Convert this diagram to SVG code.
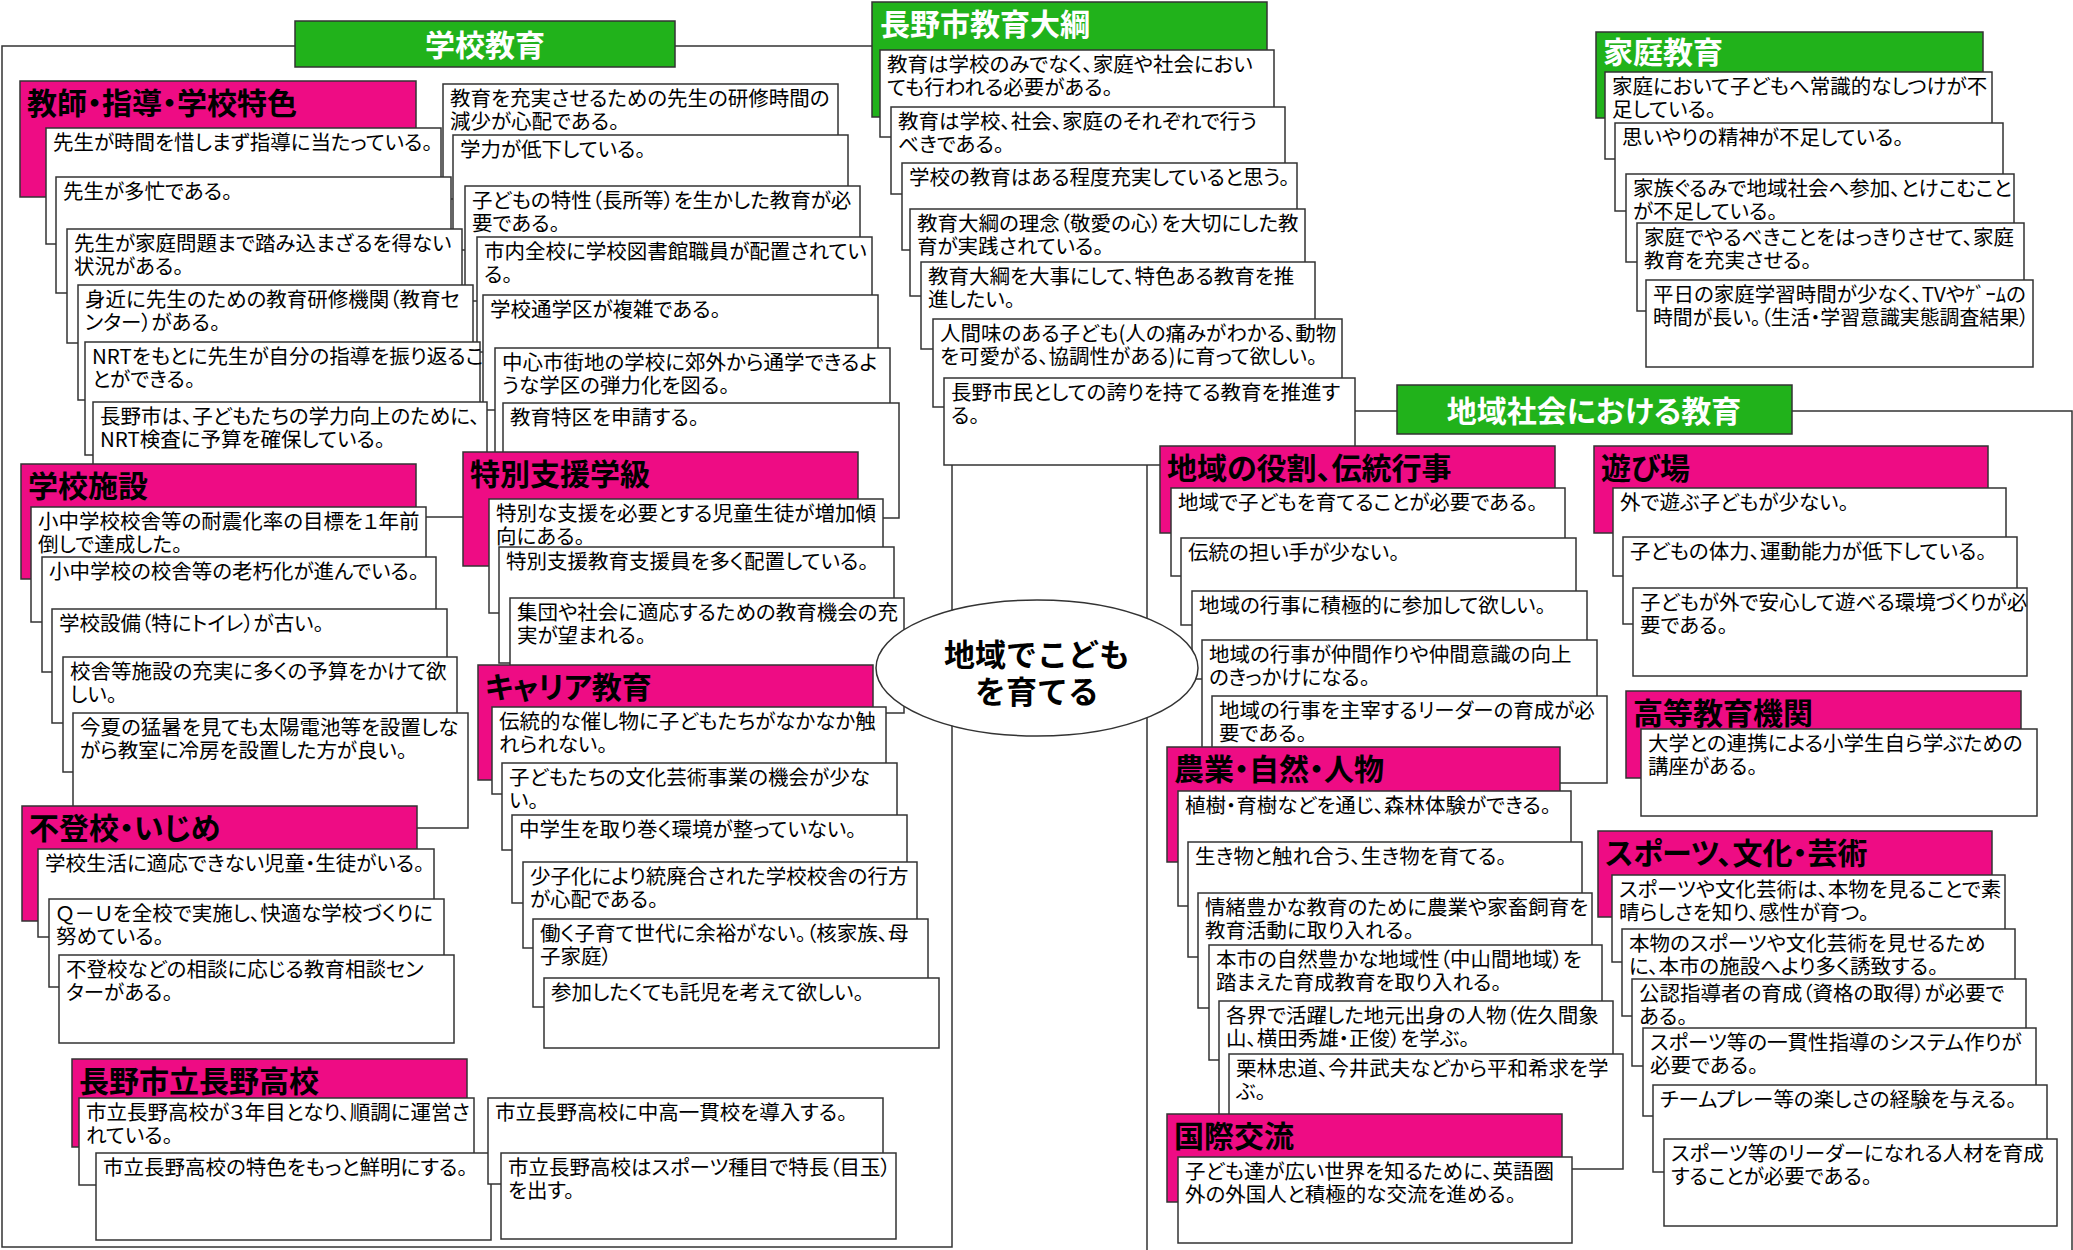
<svg xmlns="http://www.w3.org/2000/svg" width="2073" height="1250" viewBox="0 0 2073 1250">
<style>
.c{fill:#fff;stroke:#333;stroke-width:1.5}
.ph{fill:#EE0C84;stroke:#333;stroke-width:1.5}
.gh{fill:#21B21B;stroke:#333;stroke-width:1.5}
.fr{fill:none;stroke:#333;stroke-width:1.5}
text{font-family:"Noto Sans CJK JP","Noto Sans CJK SC",sans-serif;font-feature-settings:"palt"}
.t{font-size:20.5px;fill:#000}
.ht{font-size:30px;font-weight:bold;fill:#000}
.gt{font-size:30px;font-weight:bold;fill:#fff}
.et{font-size:31px;font-weight:bold;fill:#000;text-anchor:middle;font-feature-settings:normal}
</style>
<rect x="0" y="0" width="2073" height="1250" fill="#fff"/>
<g id="connectors">
<rect class="fr" x="2" y="46" width="950" height="1201"/>
<rect class="fr" x="1147" y="411" width="925" height="850"/>
</g>
<g id="school">
<g id="h-school"><rect class="gh" x="295" y="21" width="380" height="46"/><text class="gt" x="485" y="56" text-anchor="middle">学校教育</text></g>
<g id="school-right">
<g id="r1"><rect class="c" x="443" y="84" width="395" height="115"/><text class="t" x="450" y="106"><tspan>教育を充実させるための先生の研修時間の</tspan><tspan x="450" dy="22.5">減少が心配である。</tspan></text></g>
<g id="r2"><rect class="c" x="453" y="135" width="395" height="115"/><text class="t" x="460" y="157">学力が低下している。</text></g>
<g id="r3"><rect class="c" x="465" y="186" width="395" height="115"/><text class="t" x="472" y="208"><tspan>子どもの特性（長所等）を生かした教育が必</tspan><tspan x="472" dy="22.5">要である。</tspan></text></g>
<g id="r4"><rect class="c" x="477" y="237" width="395" height="115"/><text class="t" x="484" y="259"><tspan>市内全校に学校図書館職員が配置されてい</tspan><tspan x="484" dy="22.5">る。</tspan></text></g>
<g id="r5"><rect class="c" x="483" y="295" width="395" height="115"/><text class="t" x="490" y="317">学校通学区が複雑である。</text></g>
<g id="r6"><rect class="c" x="495" y="348" width="395" height="115"/><text class="t" x="502" y="370"><tspan>中心市街地の学校に郊外から通学できるよ</tspan><tspan x="502" dy="22.5">うな学区の弾力化を図る。</tspan></text></g>
<g id="r7"><rect class="c" x="503" y="403" width="396" height="115"/><text class="t" x="510" y="425">教育特区を申請する。</text></g>
</g>
<g id="teacher">
<g id="h-teacher"><rect class="ph" x="20" y="81" width="396" height="116"/><text class="ht" x="27" y="114">教師・指導・学校特色</text></g>
<g id="t1"><rect class="c" x="46" y="128" width="395" height="116"/><text class="t" x="53" y="150">先生が時間を惜しまず指導に当たっている。</text></g>
<g id="t2"><rect class="c" x="56" y="177" width="395" height="116"/><text class="t" x="63" y="199">先生が多忙である。</text></g>
<g id="t3"><rect class="c" x="67" y="229" width="395" height="114"/><text class="t" x="74" y="251"><tspan>先生が家庭問題まで踏み込まざるを得ない</tspan><tspan x="74" dy="22.5">状況がある。</tspan></text></g>
<g id="t4"><rect class="c" x="78" y="285" width="395" height="115"/><text class="t" x="85" y="307"><tspan>身近に先生のための教育研修機関（教育セ</tspan><tspan x="85" dy="22.5">ンター）がある。</tspan></text></g>
<g id="t5"><rect class="c" x="85" y="342" width="395" height="113"/><text class="t" x="92" y="364"><tspan>NRTをもとに先生が自分の指導を振り返るこ</tspan><tspan x="92" dy="22.5">とができる。</tspan></text></g>
<g id="t6"><rect class="c" x="93" y="402" width="394" height="115"/><text class="t" x="100" y="424"><tspan>長野市は、子どもたちの学力向上のために、</tspan><tspan x="100" dy="22.5">NRT検査に予算を確保している。</tspan></text></g>
</g>
<g id="facility">
<g id="h-facility"><rect class="ph" x="21" y="464" width="395" height="115"/><text class="ht" x="28" y="497">学校施設</text></g>
<g id="s1"><rect class="c" x="31" y="507" width="395" height="115"/><text class="t" x="38" y="529"><tspan>小中学校校舎等の耐震化率の目標を１年前</tspan><tspan x="38" dy="22.5">倒しで達成した。</tspan></text></g>
<g id="s2"><rect class="c" x="42" y="557" width="394" height="115"/><text class="t" x="49" y="579">小中学校の校舎等の老朽化が進んでいる。</text></g>
<g id="s3"><rect class="c" x="52" y="609" width="395" height="114"/><text class="t" x="59" y="631">学校設備（特にトイレ）が古い。</text></g>
<g id="s4"><rect class="c" x="63" y="657" width="394" height="115"/><text class="t" x="70" y="679"><tspan>校舎等施設の充実に多くの予算をかけて欲</tspan><tspan x="70" dy="22.5">しい。</tspan></text></g>
<g id="s5"><rect class="c" x="73" y="713" width="395" height="115"/><text class="t" x="80" y="735"><tspan>今夏の猛暑を見ても太陽電池等を設置しな</tspan><tspan x="80" dy="22.5">がら教室に冷房を設置した方が良い。</tspan></text></g>
</g>
<g id="truancy">
<g id="h-truancy"><rect class="ph" x="22" y="806" width="395" height="115"/><text class="ht" x="29" y="839">不登校・いじめ</text></g>
<g id="f1"><rect class="c" x="38" y="849" width="396" height="88"/><text class="t" x="45" y="871">学校生活に適応できない児童・生徒がいる。</text></g>
<g id="f2"><rect class="c" x="49" y="899" width="395" height="88"/><text class="t" x="56" y="921"><tspan>Ｑ－Ｕを全校で実施し、快適な学校づくりに</tspan><tspan x="56" dy="22.5">努めている。</tspan></text></g>
<g id="f3"><rect class="c" x="59" y="955" width="395" height="88"/><text class="t" x="66" y="977"><tspan>不登校などの相談に応じる教育相談セン</tspan><tspan x="66" dy="22.5">ターがある。</tspan></text></g>
</g>
<g id="highschool">
<g id="h-highschool"><rect class="ph" x="72" y="1059" width="395" height="88"/><text class="ht" x="79" y="1092">長野市立長野高校</text></g>
<g id="n1"><rect class="c" x="79" y="1098" width="395" height="87"/><text class="t" x="86" y="1120"><tspan>市立長野高校が３年目となり、順調に運営さ</tspan><tspan x="86" dy="22.5">れている。</tspan></text></g>
<g id="n2"><rect class="c" x="96" y="1153" width="395" height="87"/><text class="t" x="103" y="1175">市立長野高校の特色をもっと鮮明にする。</text></g>
<g id="n3"><rect class="c" x="488" y="1098" width="395" height="86"/><text class="t" x="495" y="1120">市立長野高校に中高一貫校を導入する。</text></g>
<g id="n4"><rect class="c" x="501" y="1153" width="395" height="86"/><text class="t" x="508" y="1175"><tspan>市立長野高校はスポーツ種目で特長（目玉）</tspan><tspan x="508" dy="22.5">を出す。</tspan></text></g>
</g>
<g id="special">
<g id="h-special"><rect class="ph" x="463" y="452" width="395" height="114"/><text class="ht" x="470" y="485">特別支援学級</text></g>
<g id="b1"><rect class="c" x="489" y="499" width="394" height="114"/><text class="t" x="496" y="521"><tspan>特別な支援を必要とする児童生徒が増加傾</tspan><tspan x="496" dy="22.5">向にある。</tspan></text></g>
<g id="b2"><rect class="c" x="499" y="547" width="395" height="116"/><text class="t" x="506" y="569">特別支援教育支援員を多く配置している。</text></g>
<g id="b3"><rect class="c" x="510" y="598" width="394" height="115"/><text class="t" x="517" y="620"><tspan>集団や社会に適応するための教育機会の充</tspan><tspan x="517" dy="22.5">実が望まれる。</tspan></text></g>
</g>
<g id="career">
<g id="h-career"><rect class="ph" x="478" y="665" width="395" height="115"/><text class="ht" x="485" y="698">キャリア教育</text></g>
<g id="c1"><rect class="c" x="492" y="707" width="394" height="87"/><text class="t" x="499" y="729"><tspan>伝統的な催し物に子どもたちがなかなか触</tspan><tspan x="499" dy="22.5">れられない。</tspan></text></g>
<g id="c2"><rect class="c" x="502" y="763" width="395" height="87"/><text class="t" x="509" y="785"><tspan>子どもたちの文化芸術事業の機会が少な</tspan><tspan x="509" dy="22.5">い。</tspan></text></g>
<g id="c3"><rect class="c" x="512" y="815" width="395" height="88"/><text class="t" x="519" y="837">中学生を取り巻く環境が整っていない。</text></g>
<g id="c4"><rect class="c" x="523" y="862" width="394" height="86"/><text class="t" x="530" y="884"><tspan>少子化により統廃合された学校校舎の行方</tspan><tspan x="530" dy="22.5">が心配である。</tspan></text></g>
<g id="c5"><rect class="c" x="533" y="919" width="395" height="88"/><text class="t" x="540" y="941"><tspan>働く子育て世代に余裕がない。（核家族、母</tspan><tspan x="540" dy="22.5">子家庭）</tspan></text></g>
<g id="c6"><rect class="c" x="544" y="978" width="395" height="70"/><text class="t" x="551" y="1000">参加したくても託児を考えて欲しい。</text></g>
</g>
</g>
<g id="outline">
<g id="h-outline"><rect class="gh" x="872" y="2" width="395" height="115"/><text class="gt" x="880" y="35">長野市教育大綱</text></g>
<g id="o1"><rect class="c" x="880" y="50" width="394" height="87"/><text class="t" x="887" y="72"><tspan>教育は学校のみでなく、家庭や社会におい</tspan><tspan x="887" dy="22.5">ても行われる必要がある。</tspan></text></g>
<g id="o2"><rect class="c" x="891" y="107" width="394" height="87"/><text class="t" x="898" y="129"><tspan>教育は学校、社会、家庭のそれぞれで行う</tspan><tspan x="898" dy="22.5">べきである。</tspan></text></g>
<g id="o3"><rect class="c" x="902" y="163" width="395" height="87"/><text class="t" x="909" y="185">学校の教育はある程度充実していると思う。</text></g>
<g id="o4"><rect class="c" x="910" y="209" width="395" height="87"/><text class="t" x="917" y="231"><tspan>教育大綱の理念（敬愛の心）を大切にした教</tspan><tspan x="917" dy="22.5">育が実践されている。</tspan></text></g>
<g id="o5"><rect class="c" x="921" y="262" width="394" height="87"/><text class="t" x="928" y="284"><tspan>教育大綱を大事にして、特色ある教育を推</tspan><tspan x="928" dy="22.5">進したい。</tspan></text></g>
<g id="o6"><rect class="c" x="933" y="319" width="409" height="88"/><text class="t" x="940" y="341"><tspan>人間味のある子ども(人の痛みがわかる、動物</tspan><tspan x="940" dy="22.5">を可愛がる、協調性がある)に育って欲しい。</tspan></text></g>
<g id="o7"><rect class="c" x="944" y="378" width="411" height="87"/><text class="t" x="951" y="400"><tspan>長野市民としての誇りを持てる教育を推進す</tspan><tspan x="951" dy="22.5">る。</tspan></text></g>
</g>
<g id="home">
<g id="h-home"><rect class="gh" x="1596" y="32" width="387" height="86"/><text class="gt" x="1603" y="63">家庭教育</text></g>
<g id="k1"><rect class="c" x="1605" y="72" width="387" height="87"/><text class="t" x="1612" y="94"><tspan>家庭において子どもへ常識的なしつけが不</tspan><tspan x="1612" dy="22.5">足している。</tspan></text></g>
<g id="k2"><rect class="c" x="1615" y="123" width="388" height="88"/><text class="t" x="1622" y="145">思いやりの精神が不足している。</text></g>
<g id="k3"><rect class="c" x="1626" y="174" width="388" height="88"/><text class="t" x="1633" y="196"><tspan>家族ぐるみで地域社会へ参加、とけこむこと</tspan><tspan x="1633" dy="22.5">が不足している。</tspan></text></g>
<g id="k4"><rect class="c" x="1637" y="223" width="387" height="88"/><text class="t" x="1644" y="245"><tspan>家庭でやるべきことをはっきりさせて、家庭</tspan><tspan x="1644" dy="22.5">教育を充実させる。</tspan></text></g>
<g id="k5"><rect class="c" x="1646" y="280" width="387" height="87"/><text class="t" x="1653" y="302"><tspan>平日の家庭学習時間が少なく、TVやｹﾞｰﾑの</tspan><tspan x="1653" dy="22.5" textLength="376" lengthAdjust="spacingAndGlyphs">時間が長い。（生活・学習意識実態調査結果）</tspan></text></g>
</g>
<g id="community">
<g id="h-community"><rect class="gh" x="1397" y="385" width="395" height="49"/><text class="gt" x="1594" y="422" text-anchor="middle">地域社会における教育</text></g>
<g id="role">
<g id="h-role"><rect class="ph" x="1160" y="446" width="395" height="87"/><text class="ht" x="1167" y="479">地域の役割、伝統行事</text></g>
<g id="a1"><rect class="c" x="1171" y="488" width="394" height="88"/><text class="t" x="1178" y="510">地域で子どもを育てることが必要である。</text></g>
<g id="a2"><rect class="c" x="1181" y="538" width="395" height="87"/><text class="t" x="1188" y="560">伝統の担い手が少ない。</text></g>
<g id="a3"><rect class="c" x="1192" y="591" width="395" height="88"/><text class="t" x="1199" y="613">地域の行事に積極的に参加して欲しい。</text></g>
<g id="a4"><rect class="c" x="1202" y="640" width="395" height="110"/><text class="t" x="1209" y="662"><tspan>地域の行事が仲間作りや仲間意識の向上</tspan><tspan x="1209" dy="22.5">のきっかけになる。</tspan></text></g>
<g id="a5"><rect class="c" x="1212" y="696" width="395" height="87"/><text class="t" x="1219" y="718"><tspan>地域の行事を主宰するリーダーの育成が必</tspan><tspan x="1219" dy="22.5">要である。</tspan></text></g>
</g>
<g id="nature">
<g id="h-nature"><rect class="ph" x="1167" y="747" width="393" height="115"/><text class="ht" x="1174" y="780">農業・自然・人物</text></g>
<g id="g1"><rect class="c" x="1178" y="791" width="393" height="115"/><text class="t" x="1185" y="813">植樹・育樹などを通じ、森林体験ができる。</text></g>
<g id="g2"><rect class="c" x="1188" y="842" width="394" height="115"/><text class="t" x="1195" y="864">生き物と触れ合う、生き物を育てる。</text></g>
<g id="g3"><rect class="c" x="1198" y="893" width="394" height="115"/><text class="t" x="1205" y="915"><tspan>情緒豊かな教育のために農業や家畜飼育を</tspan><tspan x="1205" dy="22.5">教育活動に取り入れる。</tspan></text></g>
<g id="g4"><rect class="c" x="1209" y="945" width="393" height="115"/><text class="t" x="1216" y="967"><tspan>本市の自然豊かな地域性（中山間地域）を</tspan><tspan x="1216" dy="22.5">踏まえた育成教育を取り入れる。</tspan></text></g>
<g id="g5"><rect class="c" x="1219" y="1001" width="394" height="115"/><text class="t" x="1226" y="1023"><tspan>各界で活躍した地元出身の人物（佐久間象</tspan><tspan x="1226" dy="22.5">山、横田秀雄・正俊）を学ぶ。</tspan></text></g>
<g id="g6"><rect class="c" x="1229" y="1054" width="394" height="115"/><text class="t" x="1236" y="1076"><tspan>栗林忠道、今井武夫などから平和希求を学</tspan><tspan x="1236" dy="22.5">ぶ。</tspan></text></g>
</g>
<g id="intl">
<g id="h-intl"><rect class="ph" x="1167" y="1114" width="395" height="88"/><text class="ht" x="1174" y="1147">国際交流</text></g>
<g id="i1"><rect class="c" x="1178" y="1157" width="394" height="86"/><text class="t" x="1185" y="1179"><tspan>子ども達が広い世界を知るために、英語圏</tspan><tspan x="1185" dy="22.5">外の外国人と積極的な交流を進める。</tspan></text></g>
</g>
<g id="play">
<g id="h-play"><rect class="ph" x="1594" y="446" width="394" height="87"/><text class="ht" x="1601" y="479">遊び場</text></g>
<g id="p1"><rect class="c" x="1613" y="488" width="393" height="88"/><text class="t" x="1620" y="510">外で遊ぶ子どもが少ない。</text></g>
<g id="p2"><rect class="c" x="1623" y="537" width="394" height="87"/><text class="t" x="1630" y="559">子どもの体力、運動能力が低下している。</text></g>
<g id="p3"><rect class="c" x="1633" y="588" width="394" height="88"/><text class="t" x="1640" y="610"><tspan>子どもが外で安心して遊べる環境づくりが必</tspan><tspan x="1640" dy="22.5">要である。</tspan></text></g>
</g>
<g id="higher">
<g id="h-higher"><rect class="ph" x="1626" y="691" width="395" height="87"/><text class="ht" x="1633" y="724">高等教育機関</text></g>
<g id="u1"><rect class="c" x="1641" y="729" width="396" height="87"/><text class="t" x="1648" y="751"><tspan>大学との連携による小学生自ら学ぶための</tspan><tspan x="1648" dy="22.5">講座がある。</tspan></text></g>
</g>
<g id="sports">
<g id="h-sports"><rect class="ph" x="1598" y="831" width="394" height="86"/><text class="ht" x="1605" y="864">スポーツ、文化・芸術</text></g>
<g id="sp1"><rect class="c" x="1612" y="875" width="393" height="87"/><text class="t" x="1619" y="897"><tspan>スポーツや文化芸術は、本物を見ることで素</tspan><tspan x="1619" dy="22.5">晴らしさを知り、感性が育つ。</tspan></text></g>
<g id="sp2"><rect class="c" x="1622" y="929" width="393" height="87"/><text class="t" x="1629" y="951"><tspan>本物のスポーツや文化芸術を見せるため</tspan><tspan x="1629" dy="22.5">に、本市の施設へより多く誘致する。</tspan></text></g>
<g id="sp3"><rect class="c" x="1632" y="979" width="394" height="87"/><text class="t" x="1639" y="1001"><tspan>公認指導者の育成（資格の取得）が必要で</tspan><tspan x="1639" dy="22.5">ある。</tspan></text></g>
<g id="sp4"><rect class="c" x="1643" y="1028" width="393" height="88"/><text class="t" x="1650" y="1050"><tspan>スポーツ等の一貫性指導のシステム作りが</tspan><tspan x="1650" dy="22.5">必要である。</tspan></text></g>
<g id="sp5"><rect class="c" x="1653" y="1085" width="394" height="87"/><text class="t" x="1660" y="1107">チームプレー等の楽しさの経験を与える。</text></g>
<g id="sp6"><rect class="c" x="1664" y="1139" width="393" height="87"/><text class="t" x="1671" y="1161"><tspan>スポーツ等のリーダーになれる人材を育成</tspan><tspan x="1671" dy="22.5">することが必要である。</tspan></text></g>
</g>
</g>
<g id="center">
<ellipse cx="1037" cy="668" rx="161" ry="68" fill="#fff" stroke="#333" stroke-width="1.5"/>
<text class="et" x="1037" y="666">地域でこども</text>
<text class="et" x="1037" y="703">を育てる</text>
</g>
</svg>
